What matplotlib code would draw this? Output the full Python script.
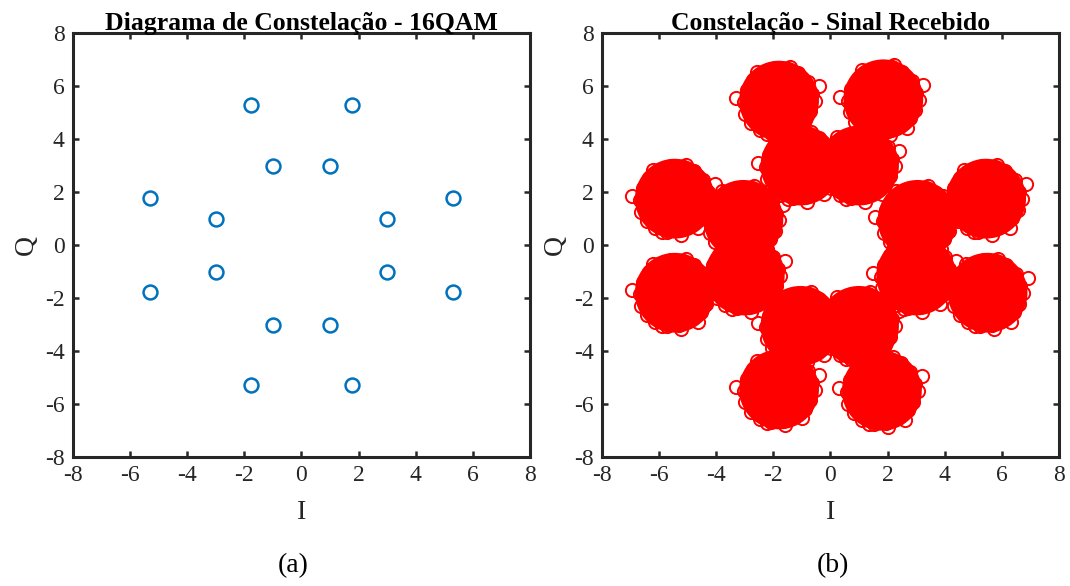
import numpy as np
import matplotlib.pyplot as plt

plt.rcParams['font.family'] = ['Liberation Serif', 'DejaVu Serif']

# Ideal 16QAM constellation points (panel a)
tx_i = [-1.77, 1.77, -1.0, 1.0, -5.3, 5.3, -3.0, 3.0,
        -3.0, 3.0, -5.3, 5.3, -1.0, 1.0, -1.77, 1.77]
tx_q = [5.3, 5.3, 3.0, 3.0, 1.77, 1.77, 1.0, 1.0,
        -1.0, -1.0, -1.77, -1.77, -3.0, -3.0, -5.3, -5.3]

# Received clusters (panel b): centres
rx_ci = [-1.8, 1.85, -1.05, 1.0, -5.45, 5.45, -3.05, 3.05,
         -3.0, 3.0, -5.45, 5.5, -1.05, 1.0, -1.8, 1.8]
rx_cq = [5.45, 5.5, 3.0, 3.0, 1.75, 1.75, 0.95, 0.95,
         -1.15, -1.15, -1.8, -1.8, -3.05, -3.05, -5.45, -5.5]

# spread of received samples around each centre (hand-read outline samples)
spread_i = [1.15, 1.00, 0.66, 0.30, -0.13, -0.54, -0.90, -1.12, -1.22, -1.18,
            -0.98, -0.68, -0.27, 0.15, 0.57, 0.92, 1.10, 1.25, 0.38, -0.44,
            1.40, -1.50, 0.22, -0.76, 0.82, 0.05]
spread_q = [0.24, 0.69, 1.03, 1.20, 1.22, 1.07, 0.78, 0.39, -0.05, -0.49,
            -0.85, -1.11, -1.24, -1.20, -1.01, -0.72, -0.41, -0.02, 1.28, -1.26,
            0.55, 0.10, -1.36, 1.09, -1.09, 0.00]

ticks = [-8, -6, -4, -2, 0, 2, 4, 6, 8]
axcol = '#262626'

fig = plt.figure(figsize=(10.7, 5.86), dpi=100)
ax1 = fig.add_axes([0.0682, 0.2201, 0.4271, 0.7235])
ax2 = fig.add_axes([0.5626, 0.2201, 0.4271, 0.7235])

ax1.plot(tx_i, tx_q, 'o', color='#0072BD', markersize=10, markerfacecolor='none',
         markeredgewidth=1.8, linestyle='none')

# cluster bodies
ax2.scatter(rx_ci, rx_cq, s=3300, color='#FF0000', edgecolors='none', zorder=2)
for ci, cq in zip(rx_ci, rx_cq):
    xs = [ci + d for d in spread_i]
    ys = [cq + d for d in spread_q]
    ax2.plot(xs, ys, 'o', color='#FF0000', markersize=9.5, markerfacecolor='none',
             markeredgewidth=1.4, linestyle='none', zorder=3)

titles = ['Diagrama de Constelação - 16QAM', 'Constelação - Sinal Recebido']
for ax, t in zip([ax1, ax2], titles):
    ax.set_xlim(-8, 8)
    ax.set_ylim(-8, 8)
    ax.set_xticks(ticks)
    ax.set_yticks(ticks)
    ax.set_xticklabels([str(v) for v in ticks])
    ax.set_yticklabels([str(v) for v in ticks])
    ax.tick_params(direction='in', length=4, width=1.8, top=True, right=True,
                   labelsize=17, colors=axcol, pad=6)
    for sp in ax.spines.values():
        sp.set_linewidth(2.2)
        sp.set_color(axcol)
    ax.set_title(t, fontsize=18.5, fontweight='bold', pad=2, color='black')
    ax.set_xlabel('I', fontsize=20, color=axcol, labelpad=10)
    ax.set_ylabel('Q', fontsize=20, color=axcol, labelpad=4)

fig.text(0.274, 0.034, '(a)', fontsize=20, ha='center', va='center')
fig.text(0.778, 0.034, '(b)', fontsize=20, ha='center', va='center')

fig.savefig('out.png', dpi=100)
